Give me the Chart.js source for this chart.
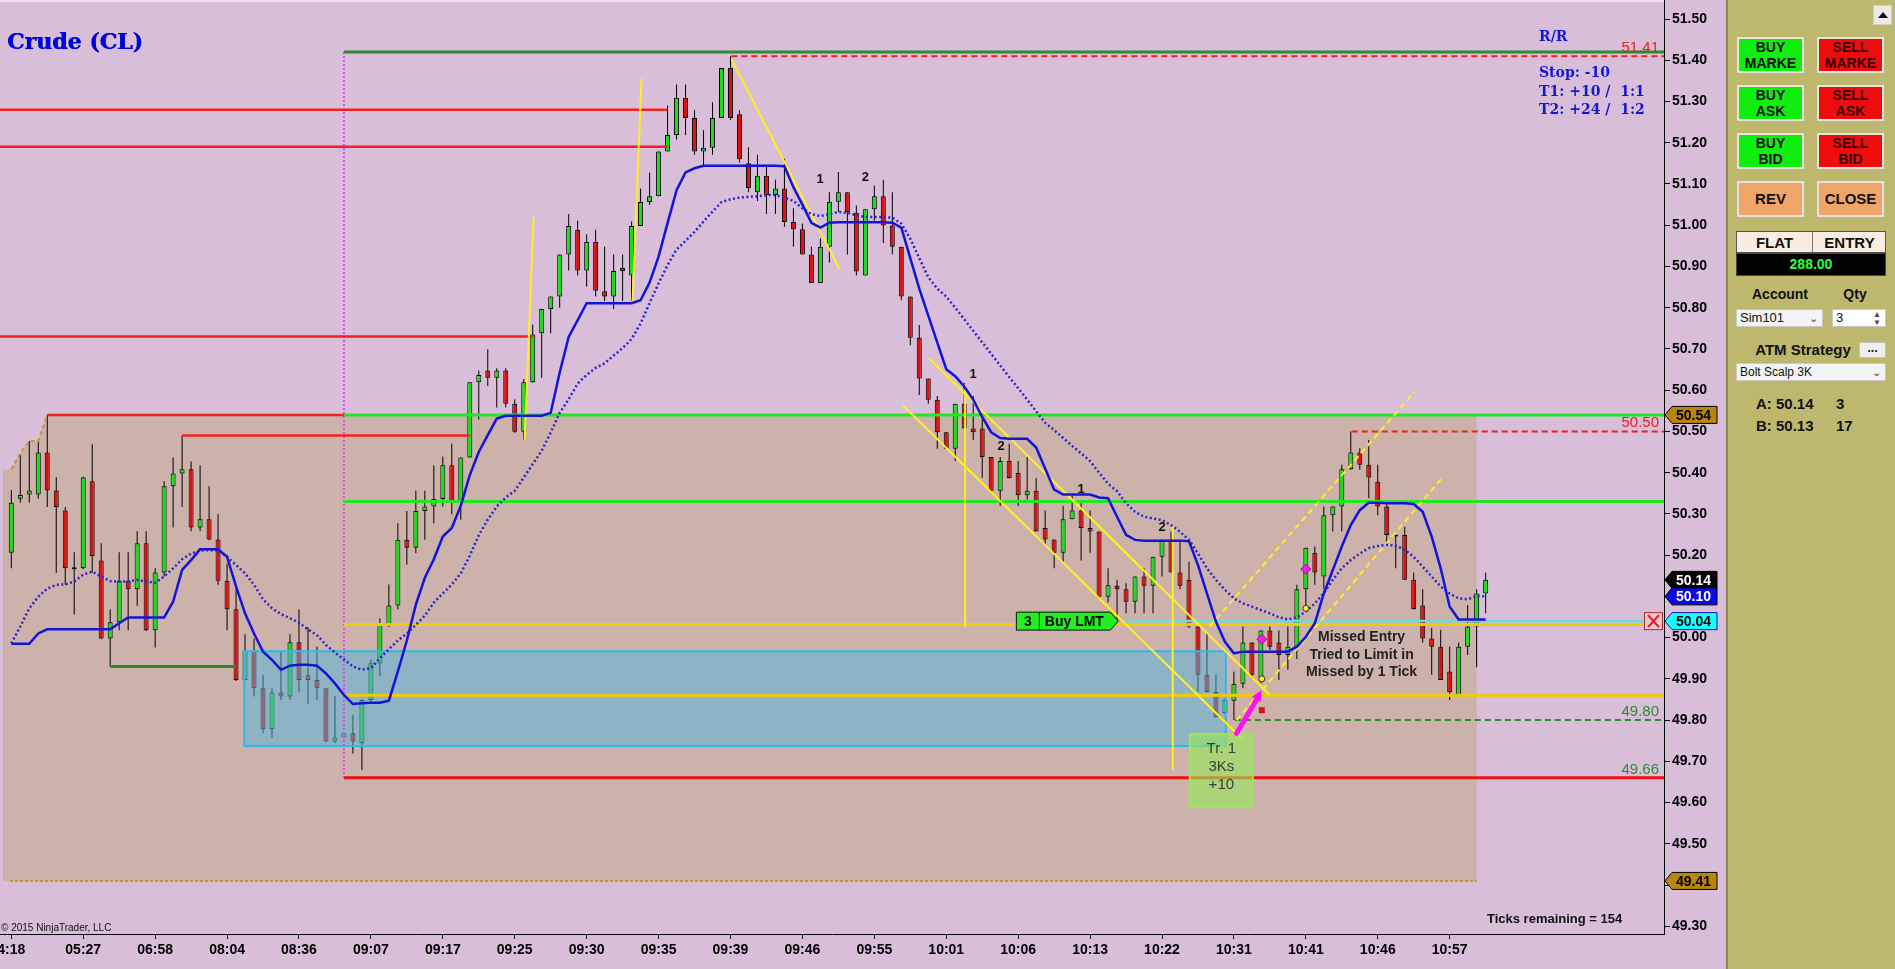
<!DOCTYPE html>
<html>
<head>
<meta charset="utf-8">
<title>Crude (CL)</title>
<script src="https://cdn.jsdelivr.net/npm/chart.js@4.4.1/dist/chart.umd.min.js"></script>
<style>
  html, body { margin:0; padding:0; width:1895px; height:969px; overflow:hidden; background:#D8BED8; }
  #chartBox { position:absolute; left:0; top:0; width:1726px; height:969px; }
  #panel { position:absolute; left:1726px; top:0; width:169px; height:969px; background:#BEB86E; font-family:"Liberation Sans", Arial, sans-serif; color:#111; }
  #panel .edge { position:absolute; left:0; top:0; width:2px; height:969px; background:#8A854F; }
  .btn { position:absolute; width:67px; height:36px; box-sizing:border-box; border:2px solid #E4E4E4; display:flex; flex-direction:column; justify-content:center; align-items:center; font-weight:bold; font-size:14px; line-height:16px; color:#111; overflow:hidden; white-space:nowrap; }
  .buy { background:#10EE10; }
  .sell { background:#EE0C0C; color:#3A0000; }
  .act { background:#F0A467; font-size:15px; }
  .abs { position:absolute; }
  .lbl { position:absolute; font-weight:bold; font-size:15px; text-align:center; }
  .combo { position:absolute; height:18px; box-sizing:border-box; background:#F3F3F3; border:1px solid #C8C8C8; font-size:13px; line-height:16px; padding-left:3px; color:#111; }
  .chev { position:absolute; right:4px; top:0; font-size:11px; color:#444; }
</style>
</head>
<body>
<div id="chartBox"><canvas id="c" width="1726" height="969"></canvas></div>
<div id="panel">
  <div class="edge"></div>
  <div class="abs" style="left:147px;top:5px;width:19px;height:20px;background:#EAEAEA;border:1px solid #CFCFCF;box-sizing:border-box;">
    <div style="position:absolute;left:4px;top:6px;width:0;height:0;border-left:5px solid transparent;border-right:5px solid transparent;border-bottom:6px solid #111;"></div>
  </div>
  <div class="btn buy" style="left:11px;top:37px;"><span>BUY</span><span>MARKE</span></div>
  <div class="btn sell" style="left:91px;top:37px;"><span>SELL</span><span>MARKE</span></div>
  <div class="btn buy" style="left:11px;top:85px;"><span>BUY</span><span>ASK</span></div>
  <div class="btn sell" style="left:91px;top:85px;"><span>SELL</span><span>ASK</span></div>
  <div class="btn buy" style="left:11px;top:133px;"><span>BUY</span><span>BID</span></div>
  <div class="btn sell" style="left:91px;top:133px;"><span>SELL</span><span>BID</span></div>
  <div class="btn act" style="left:11px;top:181px;"><span>REV</span></div>
  <div class="btn act" style="left:91px;top:181px;"><span>CLOSE</span></div>
  <div class="abs" style="left:10px;top:231px;width:150px;height:22px;background:#F8EDE0;border:1px solid #555;box-sizing:border-box;font-weight:bold;font-size:15px;">
    <div class="abs" style="left:0;top:2px;width:75px;text-align:center;">FLAT</div>
    <div class="abs" style="left:75px;top:0;width:1px;height:20px;background:#777;"></div>
    <div class="abs" style="left:76px;top:2px;width:73px;text-align:center;">ENTRY</div>
  </div>
  <div class="abs" style="left:10px;top:253px;width:150px;height:23px;background:#000;border:1px solid #444;box-sizing:border-box;color:#33FF33;font-weight:bold;font-size:14px;text-align:center;line-height:21px;">288.00</div>
  <div class="lbl" style="left:10px;top:286px;width:88px;font-size:14px;">Account</div>
  <div class="lbl" style="left:106px;top:286px;width:46px;font-size:14px;">Qty</div>
  <div class="combo" style="left:10px;top:309px;width:87px;">Sim101<span class="chev">&#8964;</span></div>
  <div class="combo" style="left:106px;top:309px;width:54px;background:#FFFFFF;">3<span class="chev" style="font-size:8px;line-height:8px;top:1px;">&#9650;<br>&#9660;</span></div>
  <div class="lbl" style="left:22px;top:341px;width:110px;">ATM Strategy</div>
  <div class="abs" style="left:133px;top:342px;width:27px;height:16px;background:#EEEEEE;border:1px solid #C0C0C0;box-sizing:border-box;font-weight:bold;font-size:12px;text-align:center;line-height:10px;">...</div>
  <div class="combo" style="left:10px;top:363px;width:150px;font-size:12px;">Bolt Scalp 3K<span class="chev">&#8964;</span></div>
  <div class="abs" style="left:30px;top:395px;font-size:15px;font-weight:bold;">A: 50.14</div>
  <div class="abs" style="left:110px;top:395px;font-size:15px;font-weight:bold;">3</div>
  <div class="abs" style="left:30px;top:417px;font-size:15px;font-weight:bold;">B: 50.13</div>
  <div class="abs" style="left:110px;top:417px;font-size:15px;font-weight:bold;">17</div>
</div>
<script>
// ---------------- DATA ----------------
const timeLabels = ["4:18","05:27","06:58","08:04","08:36","09:07","09:17","09:25","09:30","09:35","09:39","09:46","09:55","10:01","10:06","10:13","10:22","10:31","10:41","10:46","10:57"];
const barsPerLabel = 8;
const yTicks = [49.30,49.40,49.50,49.60,49.70,49.80,49.90,50.00,50.10,50.20,50.30,50.40,50.50,50.60,50.70,50.80,50.90,51.00,51.10,51.20,51.30,51.40,51.50];

const opens = [50.206,50.337,50.347,50.347,50.449,50.357,50.308,50.170,50.168,50.379,
 50.187,49.998,50.037,50.138,50.117,50.229,50.018,50.158,50.367,50.398,
 50.408,50.267,50.287,50.238,50.138,50.069,49.897,49.968,49.877,49.778,
 49.867,49.857,49.989,49.909,49.897,49.877,49.748,49.758,49.768,49.744,
 49.849,49.937,50.031,50.078,50.237,50.218,50.307,50.318,50.336,50.418,
 50.331,50.437,50.619,50.648,50.630,50.648,50.567,50.499,50.619,50.738,
 50.797,50.827,50.929,50.989,50.890,50.959,50.840,50.827,50.897,50.878,
 50.998,51.056,51.070,51.179,51.219,51.309,51.260,51.179,51.188,51.260,
 51.381,51.269,51.150,51.080,51.120,51.073,51.089,51.008,50.990,50.929,
 50.860,50.948,51.057,51.080,51.030,50.878,51.039,51.070,50.999,50.948,
 50.827,50.727,50.628,50.577,50.498,50.458,50.567,50.507,50.507,50.438,
 50.356,50.428,50.399,50.345,50.356,50.266,50.238,50.206,50.287,50.308,
 50.266,50.257,50.099,50.126,50.117,50.087,50.148,50.126,50.196,50.237,
 50.158,50.140,50.027,49.910,49.868,49.817,49.847,49.888,49.988,49.901,
 50.017,49.988,49.958,49.978,50.117,50.206,50.148,50.297,50.318,50.408,
 50.449,50.419,50.378,50.318,50.249,50.249,50.140,50.078,49.998,49.978,
 49.918,49.861,49.978,50.027,50.107];
const highs = [50.358,50.443,50.477,50.479,50.540,50.389,50.317,50.207,50.390,50.469,
 50.229,50.069,50.207,50.207,50.258,50.258,50.168,50.379,50.437,50.489,
 50.427,50.418,50.367,50.299,50.180,50.117,50.008,49.998,49.909,49.877,
 49.968,50.008,50.069,50.026,49.978,49.877,49.859,49.770,49.812,49.851,
 49.947,50.047,50.129,50.277,50.307,50.356,50.356,50.418,50.439,50.470,
 50.437,50.619,50.648,50.699,50.653,50.653,50.578,50.627,50.759,50.797,
 50.827,50.929,51.027,51.011,50.978,50.989,50.948,50.929,50.929,51.009,
 51.089,51.128,51.179,51.290,51.341,51.341,51.279,51.230,51.298,51.381,
 51.410,51.279,51.189,51.171,51.143,51.110,51.161,51.041,51.004,50.948,
 50.968,51.080,51.129,51.080,51.048,51.039,51.096,51.110,51.080,50.948,
 50.827,50.758,50.628,50.586,50.498,50.567,50.618,50.586,50.535,50.438,
 50.438,50.470,50.428,50.438,50.387,50.308,50.238,50.319,50.345,50.326,
 50.308,50.257,50.168,50.140,50.132,50.148,50.168,50.196,50.237,50.257,
 50.237,50.184,50.027,50.010,49.910,49.851,49.918,50.027,49.989,50.018,
 50.027,50.017,50.027,50.128,50.218,50.221,50.318,50.318,50.419,50.500,
 50.459,50.479,50.419,50.327,50.249,50.269,50.158,50.117,50.023,50.019,
 49.978,49.988,50.079,50.117,50.158];
const lows = [50.168,50.327,50.327,50.337,50.317,50.157,50.128,50.056,50.166,50.157,
 49.996,49.930,50.018,50.018,50.077,50.016,49.976,50.148,50.267,50.317,
 50.258,50.258,50.236,50.128,50.018,49.895,49.895,49.857,49.768,49.758,
 49.849,49.849,49.867,49.839,49.849,49.746,49.744,49.756,49.719,49.679,
 49.840,49.907,50.026,50.069,50.177,50.205,50.237,50.277,50.318,50.299,
 50.286,50.437,50.529,50.610,50.558,50.558,50.497,50.480,50.618,50.630,
 50.738,50.800,50.890,50.878,50.851,50.827,50.816,50.797,50.816,50.816,
 50.998,51.049,51.070,51.179,51.208,51.219,51.171,51.141,51.171,51.260,
 51.255,51.152,51.080,51.059,51.027,51.027,50.996,50.948,50.929,50.860,
 50.859,50.909,51.032,50.929,50.878,50.878,51.011,50.957,50.929,50.818,
 50.709,50.588,50.567,50.458,50.457,50.428,50.507,50.479,50.387,50.356,
 50.319,50.386,50.319,50.335,50.257,50.224,50.168,50.182,50.287,50.187,
 50.206,50.099,50.085,50.043,50.059,50.059,50.059,50.059,50.148,50.158,
 50.117,50.023,49.869,49.867,49.806,49.815,49.800,49.877,49.901,49.890,
 49.970,49.897,49.922,49.948,50.071,50.128,50.117,50.257,50.257,50.407,
 50.407,50.338,50.297,50.229,50.168,50.140,50.068,49.988,49.910,49.897,
 49.849,49.861,49.958,49.928,50.059];
const closes = [50.327,50.346,50.357,50.449,50.357,50.317,50.168,50.166,50.388,50.198,
 49.998,50.037,50.138,50.117,50.229,50.018,50.158,50.367,50.398,50.408,
 50.267,50.287,50.238,50.138,50.069,49.897,49.968,49.877,49.778,49.867,
 49.857,49.989,49.897,49.897,49.877,49.748,49.758,49.768,49.748,49.849,
 49.938,50.031,50.078,50.237,50.218,50.307,50.318,50.336,50.418,50.331,
 50.437,50.619,50.637,50.630,50.648,50.567,50.499,50.619,50.735,50.797,
 50.827,50.929,50.998,50.890,50.959,50.841,50.827,50.889,50.889,50.998,
 51.056,51.070,51.179,51.219,51.309,51.260,51.179,51.188,51.260,51.381,
 51.260,51.160,51.090,51.120,51.073,51.089,51.008,50.990,50.929,50.860,
 50.948,51.057,51.080,51.032,50.888,51.039,51.070,50.999,50.948,50.827,
 50.727,50.628,50.577,50.498,50.458,50.567,50.507,50.498,50.438,50.356,
 50.428,50.387,50.345,50.356,50.257,50.238,50.206,50.287,50.308,50.266,
 50.257,50.099,50.127,50.117,50.087,50.148,50.126,50.196,50.237,50.158,
 50.126,50.027,49.910,49.868,49.807,49.849,49.888,49.988,49.910,50.017,
 49.978,49.958,49.978,50.117,50.218,50.158,50.297,50.318,50.408,50.449,
 50.419,50.388,50.318,50.249,50.245,50.140,50.069,49.998,49.978,49.897,
 49.868,49.978,50.027,50.107,50.140];

// stepped trend indicator (solid blue)
const trendLine = [49.985,49.985,49.985,50.010,50.020,50.020,50.020,50.020,50.020,50.020,
 50.020,50.020,50.035,50.049,50.049,50.049,50.049,50.049,50.087,50.164,
 50.188,50.214,50.214,50.214,50.196,50.124,50.059,50.010,49.966,49.946,
 49.922,49.932,49.934,49.934,49.932,49.913,49.889,49.861,49.839,49.841,
 49.842,49.842,49.847,49.918,49.993,50.080,50.145,50.190,50.245,50.266,
 50.320,50.394,50.450,50.491,50.531,50.538,50.538,50.538,50.538,50.538,
 50.545,50.643,50.729,50.770,50.811,50.811,50.811,50.811,50.811,50.811,
 50.818,50.861,50.924,51.005,51.085,51.128,51.138,51.144,51.144,51.144,
 51.144,51.144,51.144,51.144,51.144,51.144,51.143,51.092,51.050,51.006,
 50.994,51.006,51.007,51.007,51.007,51.007,51.007,51.007,51.006,50.994,
 50.920,50.846,50.781,50.716,50.651,50.634,50.609,50.577,50.535,50.498,
 50.484,50.482,50.482,50.482,50.461,50.410,50.359,50.347,50.347,50.347,
 50.347,50.340,50.338,50.293,50.249,50.237,50.235,50.235,50.235,50.235,
 50.235,50.234,50.176,50.107,50.039,49.990,49.962,49.966,49.966,49.966,
 49.966,49.966,49.966,49.978,50.002,50.035,50.107,50.164,50.221,50.273,
 50.309,50.327,50.327,50.326,50.326,50.326,50.324,50.305,50.245,50.168,
 50.075,50.044,50.044,50.044,50.044];
// smoothed average (dotted blue)
const avgLine = [49.986,50.027,50.071,50.099,50.119,50.128,50.129,50.136,50.153,50.160,
 50.148,50.137,50.136,50.136,50.140,50.136,50.133,50.148,50.168,50.190,
 50.204,50.211,50.212,50.212,50.196,50.176,50.156,50.128,50.093,50.071,
 50.057,50.047,50.036,50.020,50.006,49.982,49.964,49.947,49.930,49.922,
 49.926,49.950,49.972,49.993,50.010,50.031,50.053,50.085,50.107,50.129,
 50.156,50.199,50.248,50.286,50.318,50.340,50.356,50.388,50.421,50.453,
 50.497,50.545,50.578,50.616,50.637,50.654,50.665,50.684,50.702,50.724,
 50.762,50.811,50.859,50.903,50.941,50.962,50.984,51.009,51.033,51.056,
 51.063,51.067,51.069,51.070,51.073,51.073,51.067,51.059,51.041,51.027,
 51.022,51.027,51.032,51.030,51.024,51.020,51.020,51.020,51.018,51.004,
 50.967,50.920,50.874,50.846,50.827,50.800,50.772,50.744,50.716,50.688,
 50.660,50.632,50.605,50.577,50.549,50.521,50.503,50.484,50.465,50.447,
 50.428,50.400,50.373,50.355,50.326,50.305,50.293,50.289,50.285,50.273,
 50.257,50.237,50.204,50.168,50.140,50.116,50.095,50.083,50.075,50.067,
 50.059,50.049,50.044,50.049,50.063,50.083,50.108,50.140,50.168,50.188,
 50.204,50.217,50.222,50.225,50.223,50.213,50.196,50.172,50.148,50.124,
 50.107,50.095,50.093,50.101,50.100];

// drawn price levels: [fromBar, toBar, price]
const redLevels = [[-2, 73, 51.28], [-2, 73, 51.19], [-2, 58, 50.73], [4, 37, 50.54], [19, 51, 50.49]];
const greenLevels = [[37, 999, 50.54], [37, 999, 50.33]];
const darkGreenLevels = [[37, 999, 51.42], [11, 25, 49.93]];
const goldLevels = [[37, 181.6, 50.032], [37, 999, 49.86]];
const stopLevel = [37, 999, 49.66];
const limitLevel = [124, 181.6, 50.04];
const dashedRed = [[80.1, 999, 51.41], [149.1, 999, 50.50]];
const dashedGreen = [[136.1, 999, 49.80]];
const zoneTop = [[-0.92, 50.408], [0, 50.408], [1, 50.447], [2, 50.477], [3, 50.477], [4, 50.54], [163, 50.54]];
const zoneBottom = [-0.15, 163, 49.41];
const cyanBox = [25.9, 135.1, 49.967, 49.737];
const trendSegments = [
  [[57.1, 50.48], [58.1, 51.02]],
  [[69.1, 50.811], [70.1, 51.355]],
  [[80.1, 51.403], [92.1, 50.895]],
  [[102.1, 50.677], [140.0, 49.861]],
  [[99.2, 50.563], [137.0, 49.753]],
  [[106.1, 50.614], [106.1, 50.026]],
  [[129.2, 50.269], [129.2, 49.679]]
];
const channelSegments = [
  [[133.3, 50.027], [156.1, 50.596]],
  [[136.3, 49.800], [159.1, 50.386]]
];
const swingMarks = [["1", 89.96, 51.110], ["2", 95.0, 51.115], ["1", 107.0, 50.637], ["2", 110.1, 50.464], ["1", 119.0, 50.359], ["2", 128.0, 50.267]];
const axisTags = [50.54, 50.14, 50.10, 50.04, 49.41];
const levelTexts = [["51.41", 51.41, "red"], ["50.50", 50.50, "red"], ["49.80", 49.80, "green"], ["49.66", 49.66, "green"]];

// axis ranges
const X_MIN = -1.257, X_MAX = 183.84;
const Y_MIN = 49.2813, Y_MAX = 51.5461;

// ---------------- CHART ----------------
Chart.defaults.font.family = '"Liberation Sans", Arial, sans-serif';
const GREEN = '#18E018', RED = '#E01010';

function seg(points, color, width, dash, order) {
  return { type:'line', data: points.map(p => ({x: Math.min(p[0], X_MAX + 1), y: p[1]})), borderColor: color, borderWidth: width, borderDash: dash || [], pointRadius: 0, tension: 0, fill: false, order: order };
}
function lvl(l, color, width, dash, order) { return seg([[l[0], l[2]], [l[1], l[2]]], color, width, dash, order); }

const datasets = [];
datasets.push({ type:'bar', label:'wicks', data: opens.map((o, i) => ({x: i, y: [lows[i], highs[i]]})), backgroundColor:'#000', borderWidth:0, barThickness:1, maxBarThickness:1, grouped:false, order:20, inflateAmount:0 });
datasets.push({ type:'bar', label:'bodies', data: opens.map((o, i) => ({x: i, y: [o, closes[i]]})), backgroundColor: opens.map((o, i) => closes[i] >= o ? GREEN : RED), borderColor:'#000', borderWidth:1, borderSkipped:false, barThickness:5, maxBarThickness:5, minBarLength:2, grouped:false, order:19, inflateAmount:0 });
// zone dashed outline
datasets.push(seg(zoneTop.slice(1, 6), '#C8962E', 2, [4, 3], 6));
datasets.push(lvl(zoneBottom, '#C8962E', 2, [3, 2], 6));
redLevels.forEach(l => datasets.push(lvl(l, '#EE2222', 2.5, [], 5)));
greenLevels.forEach(l => datasets.push(lvl(l, '#22E622', 3, [], 5)));
darkGreenLevels.forEach(l => datasets.push(lvl(l, '#2F8A2F', 3, [], 5)));
goldLevels.forEach(l => datasets.push(lvl(l, '#F2CB07', 3, [], 5)));
datasets.push(lvl(limitLevel, '#6ADCDC', 2.5, [], 4));
datasets.push(lvl(stopLevel, '#EE1111', 3, [], 5));
dashedRed.forEach(l => datasets.push(lvl(l, '#EE2020', 2, [6, 4], 5)));
dashedGreen.forEach(l => datasets.push(lvl(l, '#2E8B2E', 2, [6, 4], 5)));
datasets.push(seg([[37, 51.42], [37, 49.66]], '#EE44EE', 2, [2, 2], 5));
trendSegments.forEach(s => datasets.push(seg(s, '#FFEE22', 2, [], 3)));
channelSegments.forEach(s => datasets.push(seg(s, '#FFEE22', 2, [6, 4], 3)));
datasets.push({ type:'line', data: avgLine.map((v, i) => ({x: i, y: v})), borderColor:'#2626CC', borderWidth:2.5, borderDash:[2, 2.5], pointRadius:0, tension:0, fill:false, order:2 });
datasets.push({ type:'line', data: trendLine.map((v, i) => ({x: i, y: v})), borderColor:'#1414D8', borderWidth:2.5, pointRadius:0, tension:0, fill:false, order:1 });

const annotations = {
  id: 'annotations',
  beforeDraw(chart) {
    const c = chart.ctx; c.save(); c.fillStyle = '#D8BED8'; c.fillRect(0, 0, chart.width, chart.height);
    c.fillStyle = '#E9E2EA'; c.fillRect(0, 0, chart.chartArea.right, 2); c.restore();
  },
  beforeDatasetsDraw(chart) {
    const {ctx, scales:{x, y}} = chart;
    ctx.save();
    ctx.fillStyle = '#CDB2AC';
    ctx.beginPath();
    zoneTop.forEach((p, k) => { const px = x.getPixelForValue(p[0]), py = y.getPixelForValue(p[1]); k ? ctx.lineTo(px, py) : ctx.moveTo(px, py); });
    ctx.lineTo(x.getPixelForValue(zoneTop[zoneTop.length - 1][0]), y.getPixelForValue(zoneBottom[2]));
    ctx.lineTo(x.getPixelForValue(zoneTop[0][0]), y.getPixelForValue(zoneBottom[2]));
    ctx.closePath(); ctx.fill();
    ctx.restore();
  },
  afterDatasetDraw(chart, args) {
    if (args.index !== 1) return;
    const {ctx, scales:{x, y}} = chart;
    const x0 = x.getPixelForValue(cyanBox[0]), x1 = x.getPixelForValue(cyanBox[1]);
    const y0 = y.getPixelForValue(cyanBox[2]), y1 = y.getPixelForValue(cyanBox[3]);
    ctx.save();
    ctx.fillStyle = 'rgba(80,180,220,0.5)';
    ctx.fillRect(x0, y0, x1 - x0, y1 - y0);
    ctx.strokeStyle = '#30B8E8'; ctx.lineWidth = 2;
    ctx.strokeRect(x0, y0, x1 - x0, y1 - y0);
    ctx.restore();
  },
  afterDatasetsDraw(chart) {
    const {ctx, scales:{x, y}, chartArea:a} = chart;
    const X = v => x.getPixelForValue(v), Y = v => y.getPixelForValue(v);
    ctx.save();
    // Trade box
    const bx0 = X(131.1), bx1 = X(138.1), by0 = Y(49.766), by1 = Y(49.589);
    ctx.fillStyle = 'rgba(150,232,90,0.62)'; ctx.fillRect(bx0, by0, bx1 - bx0, by1 - by0);
    ctx.strokeStyle = '#98E85A'; ctx.lineWidth = 2; ctx.strokeRect(bx0, by0, bx1 - bx0, by1 - by0);
    ctx.fillStyle = '#3A3A3A'; ctx.font = '15px "Liberation Sans", Arial'; ctx.textAlign = 'center'; ctx.textBaseline = 'middle';
    const bcx = (bx0 + bx1) / 2;
    ctx.fillText('Tr. 1', bcx, by0 + 15); ctx.fillText('3Ks', bcx, by0 + 33); ctx.fillText('+10', bcx, by0 + 51);

    // magenta arrow
    const ax0 = X(136.3), ay0 = Y(49.768), ax1 = X(139.1), ay1 = Y(49.873);
    ctx.strokeStyle = '#FF10F0'; ctx.fillStyle = '#FF10F0'; ctx.lineWidth = 5; ctx.lineCap = 'round';
    ctx.beginPath(); ctx.moveTo(ax0, ay0); ctx.lineTo(ax1 - 3, ay1 + 6); ctx.stroke();
    const ang = Math.atan2(ay1 - ay0, ax1 - ax0);
    ctx.beginPath(); ctx.moveTo(ax1, ay1);
    ctx.lineTo(ax1 - 12 * Math.cos(ang - 0.45), ay1 - 12 * Math.sin(ang - 0.45));
    ctx.lineTo(ax1 - 12 * Math.cos(ang + 0.45), ay1 - 12 * Math.sin(ang + 0.45));
    ctx.closePath(); ctx.fill();
    ctx.lineCap = 'butt';

    // execution markers
    ctx.fillStyle = '#E01010'; ctx.strokeStyle = '#600'; ctx.lineWidth = 1;
    ctx.fillRect(X(139.1) - 3, Y(49.824) - 3, 6, 6);
    [[139.1, 49.996], [144.0, 50.166]].forEach(p => {
      const px = X(p[0]), py = Y(p[1]);
      ctx.beginPath(); ctx.moveTo(px, py - 5); ctx.lineTo(px + 5, py); ctx.lineTo(px, py + 5); ctx.lineTo(px - 5, py); ctx.closePath();
      ctx.fillStyle = '#F020E0'; ctx.fill(); ctx.strokeStyle = '#A010A0'; ctx.stroke();
    });
    [[139.1, 49.90], [144.0, 50.071]].forEach(p => {
      ctx.beginPath(); ctx.arc(X(p[0]), Y(p[1]), 3, 0, Math.PI * 2);
      ctx.fillStyle = '#FFF020'; ctx.fill(); ctx.strokeStyle = '#333'; ctx.stroke();
    });

    // Buy LMT label
    const ly = Y(50.04), lx = X(111.8);
    ctx.beginPath(); ctx.moveTo(lx, ly - 9); ctx.lineTo(lx + 94, ly - 9); ctx.lineTo(lx + 102, ly); ctx.lineTo(lx + 94, ly + 9); ctx.lineTo(lx, ly + 9); ctx.closePath();
    ctx.fillStyle = '#22EE22'; ctx.fill(); ctx.strokeStyle = '#111'; ctx.lineWidth = 1; ctx.stroke();
    ctx.beginPath(); ctx.moveTo(lx + 23, ly - 9); ctx.lineTo(lx + 23, ly + 9); ctx.stroke();
    ctx.fillStyle = '#000'; ctx.font = 'bold 14px "Liberation Sans", Arial'; ctx.textAlign = 'center';
    ctx.fillText('3', lx + 11.5, ly + 1); ctx.fillText('Buy LMT', lx + 58, ly + 1);

    // swing count numbers
    ctx.font = 'bold 13px "Liberation Sans", Arial'; ctx.fillStyle = '#111';
    swingMarks.forEach(m => ctx.fillText(m[0], X(m[1]), Y(m[2])));

    // note text
    ctx.font = 'bold 14px "Liberation Sans", Arial'; ctx.fillStyle = '#222';
    const ny = Y(50.0);
    ctx.fillText('Missed Entry', X(150.2), ny);
    ctx.fillText('Tried to Limit in', X(150.2), ny + 18);
    ctx.fillText('Missed by 1 Tick', X(150.2), ny + 35);

    // level texts near axis
    ctx.font = '15px "Liberation Sans", Arial'; ctx.textAlign = 'right'; ctx.textBaseline = 'alphabetic';
    levelTexts.forEach(t => { ctx.fillStyle = t[2] === 'red' ? '#EE1C1C' : '#2E8B2E'; ctx.fillText(t[0], a.right - 5, Y(t[1]) - 4); });

    // cancel-order box
    const xy = Y(50.04), xb = a.right - 20;
    ctx.fillStyle = '#F2C4D2'; ctx.fillRect(xb, xy - 9, 19, 18);
    ctx.strokeStyle = '#A03030'; ctx.lineWidth = 1; ctx.strokeRect(xb + 0.5, xy - 8.5, 18, 17);
    ctx.strokeStyle = '#E01818'; ctx.lineWidth = 2;
    ctx.beginPath(); ctx.moveTo(xb + 4, xy - 6); ctx.lineTo(xb + 15, xy + 6); ctx.moveTo(xb + 15, xy - 6); ctx.lineTo(xb + 4, xy + 6); ctx.stroke();

    // axis tags
    const tagStyle = {"50.54": ['#B8860B', '#000', '#000'], "50.14": ['#000', '#FFF', '#000'], "50.10": ['#0A0AE6', '#FFF', '#000'], "50.04": ['#18FFFF', '#000', '#1010C0'], "49.41": ['#B8860B', '#000', '#000']};
    axisTags.forEach(v => {
      const t = v.toFixed(2), st = tagStyle[t], yc = Y(v), xr = a.right;
      ctx.beginPath(); ctx.moveTo(xr + 1, yc); ctx.lineTo(xr + 8, yc - 8.5); ctx.lineTo(xr + 53, yc - 8.5); ctx.lineTo(xr + 53, yc + 8.5); ctx.lineTo(xr + 8, yc + 8.5); ctx.closePath();
      ctx.fillStyle = st[0]; ctx.fill(); ctx.strokeStyle = st[2]; ctx.lineWidth = 1; ctx.stroke();
      ctx.fillStyle = st[1]; ctx.font = 'bold 14px "Liberation Sans", Arial'; ctx.textAlign = 'left'; ctx.textBaseline = 'middle';
      ctx.fillText(t, xr + 12, yc + 1);
    });

    // title & risk/reward
    ctx.textAlign = 'left'; ctx.textBaseline = 'alphabetic';
    ctx.fillStyle = '#0000E0'; ctx.font = 'bold 22px "DejaVu Serif", serif';
    ctx.fillText('Crude (CL)', a.left + 7, 49);
    ctx.fillText('Crude (CL)', a.left + 7.6, 49);
    ctx.fillStyle = '#1414DC'; ctx.font = 'bold 14px "DejaVu Serif", serif';
    ctx.fillText('R/R', 1539, 41);
    ctx.fillText('Stop: -10', 1539, 77);
    ctx.fillText('T1: +10 /  1:1', 1539, 96);
    ctx.fillText('T2: +24 /  1:2', 1539, 114);

    // footer texts
    ctx.fillStyle = '#111'; ctx.font = 'bold 13px "Liberation Sans", Arial'; ctx.textBaseline = 'middle';
    ctx.fillText('Ticks remaining = 154', 1487, 919);
    ctx.font = '10px "Liberation Sans", Arial';
    ctx.fillText('\u00A9 2015 NinjaTrader, LLC', 1, 928);
    ctx.restore();
  }
};

new Chart(document.getElementById('c'), {
  type: 'bar',
  data: { datasets },
  options: {
    responsive: false, animation: false, devicePixelRatio: 1,
    layout: { padding: 0 },
    plugins: { legend: { display: false }, tooltip: { enabled: false } },
    scales: {
      x: {
        type: 'linear', min: X_MIN, max: X_MAX, offset: false,
        afterBuildTicks: s => { s.ticks = timeLabels.map((t, k) => ({ value: k * barsPerLabel })); },
        ticks: { autoSkip: false, maxRotation: 0, minRotation: 0, color: '#000', padding: 3, font: { size: 14, weight: 'bold' },
          callback: v => timeLabels[Math.round(v / barsPerLabel)] || '' },
        grid: { drawOnChartArea: false, drawTicks: true, tickLength: 5, color: '#000', offset: false },
        border: { display: true, color: '#000', width: 1 },
        afterFit: s => { s.height = 35; s.paddingLeft = 0; s.paddingRight = 0; }
      },
      y: {
        type: 'linear', position: 'right', min: Y_MIN, max: Y_MAX,
        afterBuildTicks: s => { s.ticks = yTicks.map(v => ({ value: v })); },
        ticks: { autoSkip: false, color: '#000', padding: 2, font: { size: 14, weight: 'bold' }, callback: v => Number(v).toFixed(2) },
        grid: { drawOnChartArea: false, drawTicks: true, tickLength: 6, color: '#000' },
        border: { display: true, color: '#000', width: 1 },
        afterFit: s => { s.width = 62; s.paddingTop = 0; s.paddingBottom = 0; }
      }
    }
  },
  plugins: [annotations]
});
</script>
</body>
</html>
